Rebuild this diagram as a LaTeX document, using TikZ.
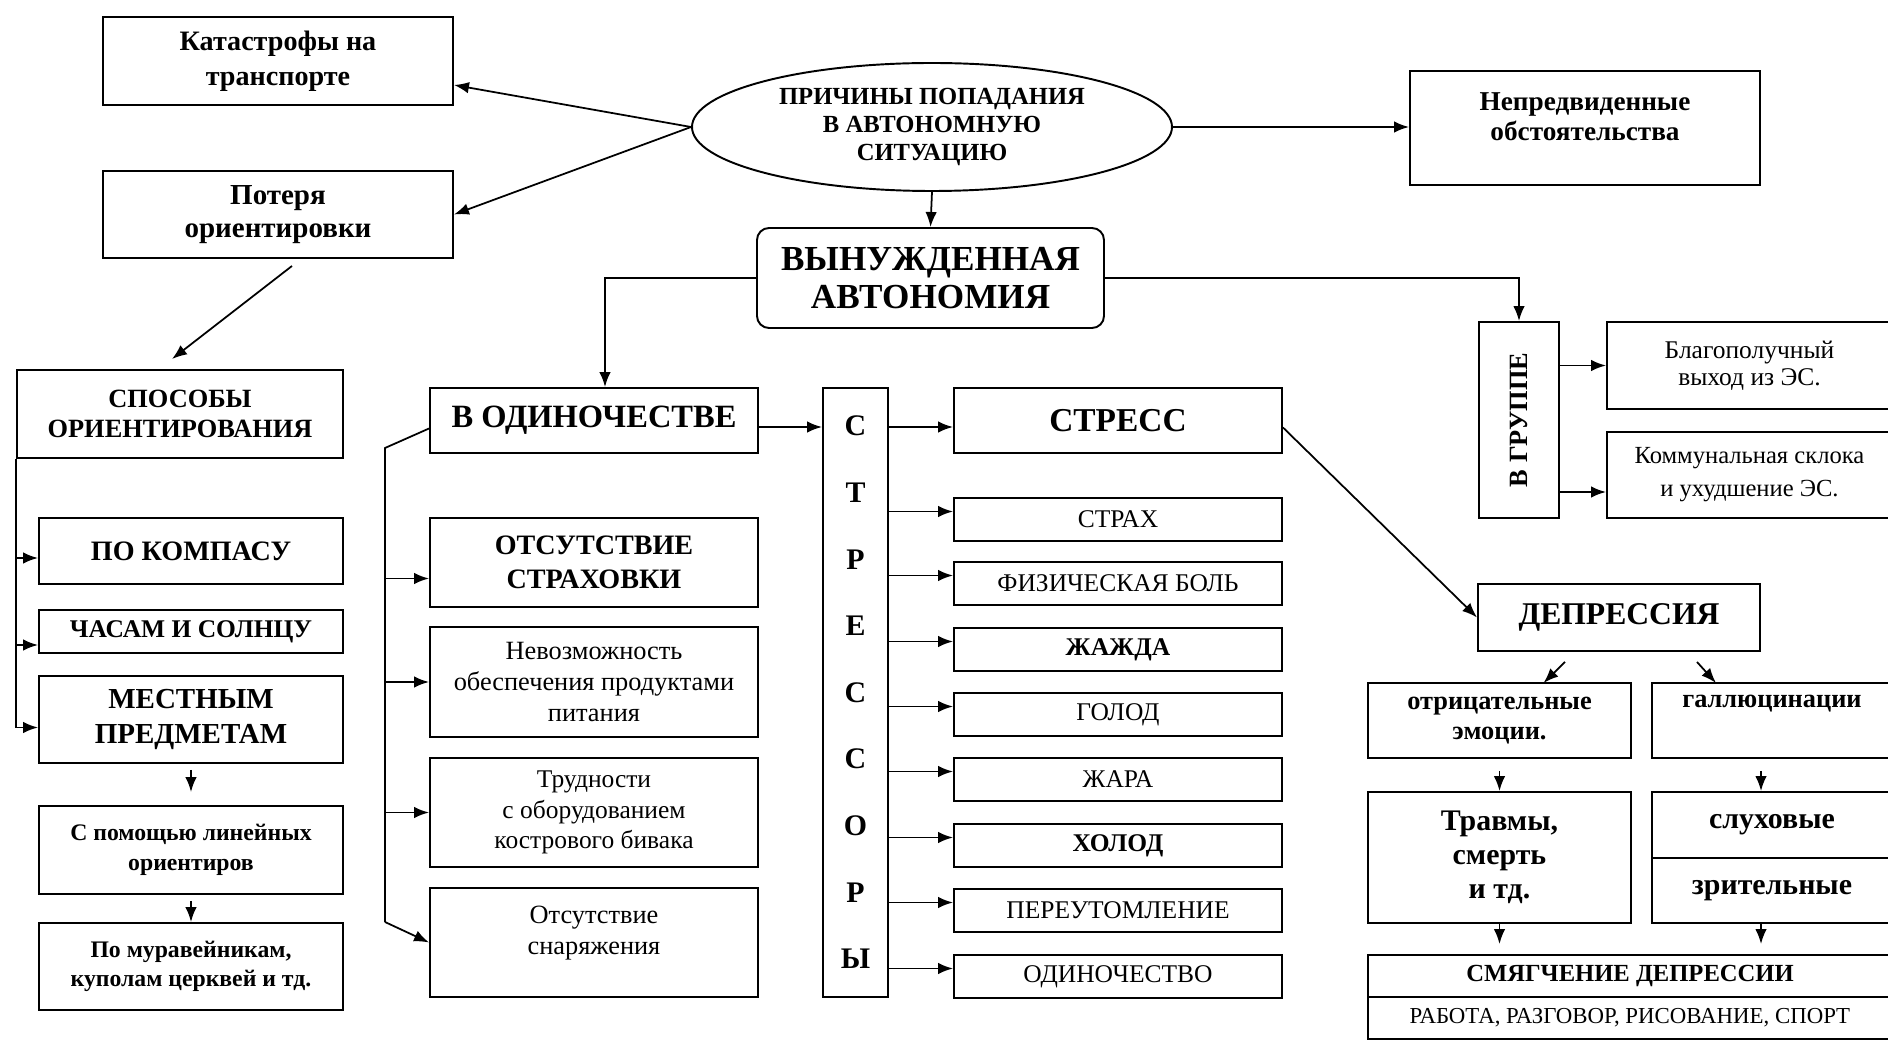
\documentclass[tikz,border=0pt]{standalone}
\usepackage{fontspec}
\setmainfont{Liberation Serif}
\usetikzlibrary{arrows.meta, shapes.geometric, calc}

\tikzset{
  box/.style={draw, line width=1.1pt, align=center, inner sep=0pt},
  wh/.style 2 args={minimum width=#1*0.2mm, minimum height=#2*0.2mm},
  bt/.style 2 args={font=\bfseries\fontsize{#1}{#2}\selectfont},
  rt/.style 2 args={font=\fontsize{#1}{#2}\selectfont},
  arr/.style={-{Latex[length=3mm,width=2.3mm]}, line width=1pt},
  ln/.style={line width=1pt}
}

\begin{document}
\begin{tikzpicture}[x=0.2mm, y=-0.2mm]
        \useasboundingbox (0,0) rectangle (1888,1041);
        \clip (0,0) rectangle (1888,1041);

        \node[box, wh={350}{88}, bt={16}{20}] (kat) at (278,61) {Катастрофы на\\транспорте};
        \node[box, wh={350}{87}, bt={16.5}{19}] (pot) at (278,214.5) {Потеря\\ориентировки};
        \node[box, ellipse, wh={480}{128}, bt={14}{16}] (prich) at (932,127) {ПРИЧИНЫ ПОПАДАНИЯ\\В АВТОНОМНУЮ\\СИТУАЦИЮ};
        \node[box, wh={350}{114}, bt={15.5}{17}, text depth=13pt] (nepr) at (1585,128) {Непредвиденные\\обстоятельства};
        \node[box, rounded corners=2.4mm, wh={347}{100}, bt={20}{22}] (vyn) at (930.5,278) {ВЫНУЖДЕННАЯ\\АВТОНОМИЯ};

        \node[box, wh={326}{88}, bt={15}{17.5}] (sposob) at (180,414) {СПОСОБЫ\\ОРИЕНТИРОВАНИЯ};
        \node[box, wh={304}{66}, bt={16}{19}] (kompas) at (191,551) {ПО КОМПАСУ};
        \node[box, wh={304}{43}, bt={14.5}{17}] (chasam) at (191,631.5) {ЧАСАМ И СОЛНЦУ};
        \node[box, wh={304}{87}, bt={16.5}{19.5}] (mestn) at (191,719.5) {МЕСТНЫМ\\ПРЕДМЕТАМ};
        \node[box, wh={304}{88}, bt={13.5}{17}] (linein) at (191,850) {С помощью линейных\\ориентиров};
        \node[box, wh={304}{87}, bt={13.5}{16.5}] (murav) at (191,966.5) {По муравейникам,\\куполам церквей и тд.};

        \node[box, wh={328}{65}, bt={18.5}{21}] (odin) at (594,420.5) {В ОДИНОЧЕСТВЕ};
        \node[box, wh={328}{89}, bt={16}{19}] (otstr) at (594,562.5) {ОТСУТСТВИЕ\\СТРАХОВКИ};
        \node[box, wh={328}{110}, rt={15}{17.6}] (nevoz) at (594,682) {Невозможность\\обеспечения продуктами\\питания};
        \node[box, wh={328}{109}, rt={14.5}{17.4}] (trudn) at (594,812.5) {Трудности\\с оборудованием\\кострового бивака};
        \node[box, wh={328}{109}, rt={15}{18}, text depth=14pt] (otsnar) at (594,942.5) {Отсутствие\\снаряжения};

        \node[box, wh={65}{609}, bt={17}{37.9}] (stressory) at (855.5,692.5) {С\\Т\\Р\\Е\\С\\С\\О\\Р\\Ы};
        \node[box, wh={328}{65}, bt={19}{22}] (stress) at (1118,420.5) {СТРЕСС};
        \node[box, wh={328}{43}, rt={14.5}{17}] (strah) at (1118,519.5) {СТРАХ};
        \node[box, wh={328}{43}, rt={14.5}{17}] (bol) at (1118,583.5) {ФИЗИЧЕСКАЯ БОЛЬ};
        \node[box, wh={328}{43}, bt={14.5}{17}] (zhazhda) at (1118,649.5) {ЖАЖДА};
        \node[box, wh={328}{43}, rt={14.5}{17}] (golod) at (1118,714.5) {ГОЛОД};
        \node[box, wh={328}{43}, rt={14.5}{17}] (zhara) at (1118,779.5) {ЖАРА};
        \node[box, wh={328}{43}, bt={14.5}{17}] (holod) at (1118,845.5) {ХОЛОД};
        \node[box, wh={328}{43}, rt={14.5}{17}] (pereut) at (1118,910.5) {ПЕРЕУТОМЛЕНИЕ};
        \node[box, wh={328}{43}, rt={14.5}{17}] (odinoch) at (1118,976.5) {ОДИНОЧЕСТВО};

        \node[box, wh={80}{196}, label={[rotate=90, bt={15}{17}]center:В ГРУППЕ}] (gruppe) at (1519,420) {};
        \node[box, wh={285}{87}, rt={14.5}{15.5}] (blago) at (1749.5,365.5) {Благополучный\\выход из ЭС.};
        \node[box, wh={285}{86}, rt={14}{18.8}] (komm) at (1749.5,475) {Коммунальная склока\\и ухудшение ЭС.};

        \node[box, wh={282}{67}, bt={18}{21}] (depr) at (1619,617.5) {ДЕПРЕССИЯ};
        \node[box, wh={263}{75}, bt={15}{17}] (otric) at (1499.5,720.5) {отрицательные\\эмоции.};
        \node[box, wh={240}{75}, bt={15}{17}] (gallu) at (1772,720.5) {галлюцинации\\ \strut};
        \node[box, wh={263}{131}, bt={17}{19.3}] (travm) at (1499.5,857.5) {Травмы,\\смерть\\и тд.};
        \node[box, wh={240}{66}, bt={17}{19}] (sluh) at (1772,825) {слуховые};
        \node[box, wh={240}{65}, bt={17}{19}] (zrit) at (1772,890.5) {зрительные};
        \node[box, wh={524}{42}, bt={14}{17}] (smyag) at (1630,976) {СМЯГЧЕНИЕ ДЕПРЕССИИ};
        \node[box, wh={524}{42}, rt={13}{16}] (rabota) at (1630,1018) {РАБОТА, РАЗГОВОР, РИСОВАНИЕ, СПОРТ};

        \draw[arr] (prich.west) -- ([yshift=-4.8mm]kat.east);
        \draw[arr] (prich.west) -- (pot.east);
        \draw[arr] (prich.east) -- (prich.east -| nepr.west);
        \draw[arr] (prich.south) -- (vyn.north);
        \draw[arr] (vyn.west) -| ([xshift=2.2mm]odin.north);
        \draw[arr] (vyn.east) -| (gruppe.north);
        \draw[arr] (gruppe.east |- blago.west) -- (blago.west);
        \draw[arr] ([yshift=-3.4mm]gruppe.east |- komm.west) -- ([yshift=-3.4mm]komm.west);

        \draw[arr] ($(pot.south)+(14,7)$) -- ($(sposob.north)+(-8,-10)$);
        \draw[arr] (sposob.south west) |- ([yshift=-1.4mm]kompas.west);
        \draw[arr] (sposob.south west) |- ([yshift=-2.7mm]chasam.west);
        \draw[arr] (sposob.south west) |- ([yshift=-1.6mm]mestn.west);
        \draw[arr, shorten <=1.2mm, shorten >=2.6mm] (mestn.south) -- (linein.north);
        \draw[arr, shorten <=1.2mm] (linein.south) -- (murav.north);

        \coordinate (ob1) at (385,448);
        \coordinate (ob2) at (385,922);
        \draw[ln] ([yshift=-1.6mm]odin.west) -- (ob1) -- (ob2);
        \draw[arr] ([yshift=-3.2mm]ob1 |- otstr.west) -- ([yshift=-3.2mm]otstr.west);
        \draw[arr] (ob1 |- nevoz.west) -- (nevoz.west);
        \draw[arr] (ob1 |- trudn.west) -- (trudn.west);
        \draw[arr] (ob2) -- (otsnar.west);

        \draw[arr] ([yshift=-1.3mm]odin.east) -- ([yshift=-1.3mm]odin.east -| stressory.west);
        \draw[arr] ([yshift=-1.3mm]stressory.east |- stress.west) -- ([yshift=-1.3mm]stress.west);
        \draw[arr] ([yshift=1.6mm]stressory.east |- strah.west) -- ([yshift=1.6mm]strah.west);
        \draw[arr] ([yshift=1.6mm]stressory.east |- bol.west) -- ([yshift=1.6mm]bol.west);
        \draw[arr] ([yshift=1.6mm]stressory.east |- zhazhda.west) -- ([yshift=1.6mm]zhazhda.west);
        \draw[arr] ([yshift=1.6mm]stressory.east |- golod.west) -- ([yshift=1.6mm]golod.west);
        \draw[arr] ([yshift=1.6mm]stressory.east |- zhara.west) -- ([yshift=1.6mm]zhara.west);
        \draw[arr] ([yshift=1.6mm]stressory.east |- holod.west) -- ([yshift=1.6mm]holod.west);
        \draw[arr] ([yshift=1.6mm]stressory.east |- pereut.west) -- ([yshift=1.6mm]pereut.west);
        \draw[arr] ([yshift=1.6mm]stressory.east |- odinoch.west) -- ([yshift=1.6mm]odinoch.west);

        \draw[arr] ([yshift=-1.4mm]stress.east) -- (depr.west);
        \draw[arr] ($(depr.south)+(-54,10)$) -- ($(otric.north)+(44,1)$);
        \draw[arr] ($(depr.south)+(78,10)$) -- ($(gallu.north)+(-56,1)$);
        \draw[arr, shorten <=2.4mm] (otric.south) -- (travm.north);
        \draw[arr, shorten <=2.4mm] ([xshift=-2.2mm]gallu.south) -- ([xshift=-2.2mm]sluh.north);
        \draw[arr, shorten >=2mm] (travm.south) -- (travm.south |- smyag.north);
        \draw[arr, shorten >=2mm] ([xshift=-2.2mm]zrit.south) -- ([xshift=-2.2mm]zrit.south |- smyag.north);
\end{tikzpicture}
\end{document}
